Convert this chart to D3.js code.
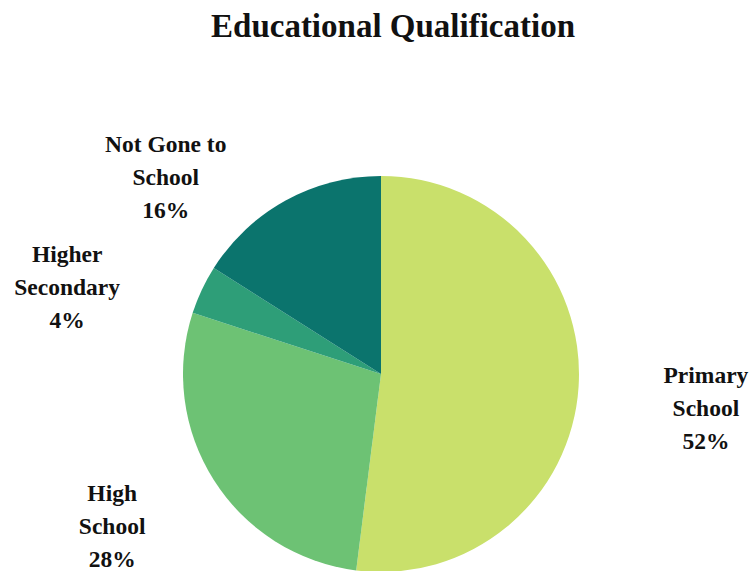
<!DOCTYPE html>
<html>
<head>
<meta charset="utf-8">
<script src="https://cdn.jsdelivr.net/npm/d3@7/dist/d3.min.js"></script>
<style>
  html, body { margin: 0; padding: 0; background: #ffffff; }
  svg { display: block; }
  text { font-family: "Liberation Serif", "Times New Roman", serif; font-weight: bold; fill: #111; }
</style>
</head>
<body>
<svg id="chart" width="751" height="571"></svg>
<script>
// Share of respondents by educational qualification (percent)
const categories = ["Primary School", "High School", "Higher Secondary", "Not Gone to School"];
const values = [52, 28, 4, 16];
const colors = ["#c9e06b", "#6dc274", "#2e9e78", "#0b746d"];
// Label text broken into lines
const labelLines = [["Primary", "School"], ["High", "School"], ["Higher", "Secondary"], ["Not Gone to", "School"]];

const W = 751, H = 571;
const cx = 381, cy = 374, radius = 198;

// Label placement around the pie: angle (deg, clockwise from 12 o'clock) and distance in radii
const labelPolar = [
  { angle: 96, dist: 1.65 },
  { angle: 240.5, dist: 1.56 },
  { angle: 285.5, dist: 1.645 },
  { angle: 312.5, dist: 1.475 }
];

const svg = d3.select("#chart");

svg.append("text")
  .attr("x", 393)
  .attr("y", 37)
  .attr("text-anchor", "middle")
  .style("font-size", "33px")
  .text("Educational Qualification");

const data = categories.map((c, i) => ({ category: c, value: values[i], i }));

const pie = d3.pie().value(d => d.value).sort(null);
const arc = d3.arc().innerRadius(0).outerRadius(radius);

const g = svg.append("g").attr("transform", `translate(${cx},${cy})`);

g.selectAll("path.slice")
  .data(pie(data))
  .join("path")
  .attr("class", "slice")
  .attr("d", arc)
  .attr("fill", d => colors[d.data.i]);

const lineH = 33;
const labels = g.selectAll("text.lbl")
  .data(pie(data))
  .join("text")
  .attr("class", "lbl")
  .attr("text-anchor", "middle")
  .style("font-size", "23.5px")
  .attr("transform", d => {
    const p = labelPolar[d.data.i];
    const a = p.angle * Math.PI / 180;
    const x = Math.sin(a) * radius * p.dist;
    const y = -Math.cos(a) * radius * p.dist;
    return `translate(${x},${y})`;
  });

labels.each(function(d) {
  const t = d3.select(this);
  const lines = labelLines[d.data.i].concat([d.data.value + "%"]);
  lines.forEach((ln, k) => {
    t.append("tspan")
      .attr("x", 0)
      .attr("y", (k - 1) * lineH + 8)
      .text(ln);
  });
});
</script>
</body>
</html>
